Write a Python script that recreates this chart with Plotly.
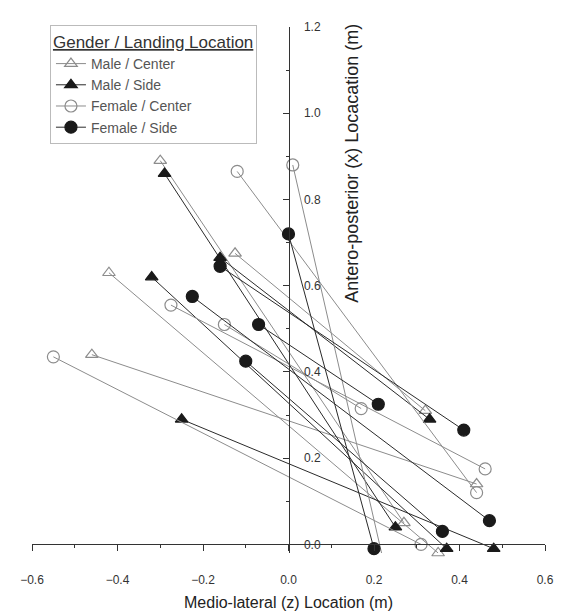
import plotly.graph_objects as go

# ---- data ----
male_center_start_x = [-0.30, -0.42, -0.125, -0.46]
male_center_start_y = [0.89, 0.63, 0.675, 0.44]
male_center_end_x = [0.27, 0.35, 0.32, 0.44]
male_center_end_y = [0.05, -0.02, 0.31, 0.14]

male_side_start_x = [-0.29, -0.32, -0.16, -0.25]
male_side_start_y = [0.86, 0.62, 0.665, 0.29]
male_side_end_x = [0.25, 0.37, 0.33, 0.48]
male_side_end_y = [0.04, -0.01, 0.29, -0.01]

female_center_start_x = [-0.12, 0.01, -0.275, -0.15, -0.55]
female_center_start_y = [0.865, 0.88, 0.555, 0.51, 0.435]
female_center_end_x = [0.44, 0.22, 0.46, 0.17, 0.31]
female_center_end_y = [0.12, -0.03, 0.175, 0.315, 0.0]

female_side_start_x = [0.0, -0.16, -0.225, -0.07, -0.10]
female_side_start_y = [0.72, 0.645, 0.575, 0.51, 0.425]
female_side_end_x = [0.20, 0.41, 0.47, 0.21, 0.36]
female_side_end_y = [-0.01, 0.265, 0.055, 0.325, 0.03]

x_ticks = [-0.6, -0.4, -0.2, 0.0, 0.2, 0.4, 0.6]
y_ticks = [0.0, 0.2, 0.4, 0.6, 0.8, 1.0, 1.2]

x_range = [-0.6, 0.6]
y_range = [-0.02, 1.2]


def segments(sx, sy, ex, ey):
    xs, ys = [], []
    for a, b, c, d in zip(sx, sy, ex, ey):
        xs += [a, c, None]
        ys += [b, d, None]
    return xs, ys


GRAY = "#8c8c8c"
DARK = "#1a1a1a"

groups = [
    ("Male / Center", male_center_start_x, male_center_start_y, male_center_end_x, male_center_end_y,
     "triangle-up-open", GRAY, GRAY, 11),
    ("Male / Side", male_side_start_x, male_side_start_y, male_side_end_x, male_side_end_y,
     "triangle-up", DARK, "#2a2a2a", 11),
    ("Female / Center", female_center_start_x, female_center_start_y, female_center_end_x, female_center_end_y,
     "circle-open", GRAY, GRAY, 12),
    ("Female / Side", female_side_start_x, female_side_start_y, female_side_end_x, female_side_end_y,
     "circle", DARK, "#2a2a2a", 12),
]

fig = go.Figure()
for name, sx, sy, ex, ey, sym, mcol, lcol, size in groups:
    xs, ys = segments(sx, sy, ex, ey)
    fig.add_trace(go.Scatter(
        x=xs, y=ys, name=name, mode="lines+markers",
        line=dict(color=lcol, width=1),
        marker=dict(symbol=sym, color=mcol, size=size, line=dict(color=mcol, width=1.2)),
        connectgaps=False, cliponaxis=False,
    ))

font_family = "Liberation Sans, Arial, sans-serif"

fig.update_layout(
    width=558, height=605,
    margin=dict(l=17, r=20, t=12, b=60),
    paper_bgcolor="white", plot_bgcolor="white",
    font=dict(family=font_family, size=12, color="#333333"),
    xaxis=dict(
        range=x_range, domain=[0, 1], anchor="free",
        position=(0 - y_range[0]) / (y_range[1] - y_range[0]),
        showline=True, linecolor="#333333", linewidth=1,
        ticks="outside", ticklen=6, tickcolor="#333333",
        tickvals=x_ticks, tickformat=".1f",
        minor=dict(dtick=0.1, ticks="outside", ticklen=3, tickcolor="#333333"),
        ticklabelstandoff=18,
        showgrid=False, zeroline=False,
        tickfont=dict(size=12, color="#333333"),
    ),
    yaxis=dict(
        range=y_range, domain=[0, 1], anchor="free",
        position=(0 - x_range[0]) / (x_range[1] - x_range[0]),
        side="right",
        showline=True, linecolor="#333333", linewidth=1,
        ticks="inside", ticklen=6, tickcolor="#333333",
        tickvals=y_ticks, tickformat=".1f",
        minor=dict(dtick=0.1, ticks="inside", ticklen=3, tickcolor="#333333"),
        ticklabelstandoff=12,
        showgrid=False, zeroline=False,
        tickfont=dict(size=12, color="#333333"),
    ),
    legend=dict(
        x=0.035, y=1.004, xanchor="left", yanchor="top",
        bgcolor="white", bordercolor="#bbbbbb", borderwidth=1,
        font=dict(size=14, color="#555555"),
        title=dict(text="<u>Gender / Landing Location</u>", font=dict(size=17, color="#333333")),
        tracegroupgap=0,
    ),
    annotations=[
        dict(text="Medio-lateral (z) Location (m)", xref="paper", yref="paper",
             x=0.5, y=-0.094, xanchor="center", yanchor="middle", showarrow=False,
             font=dict(size=16, color="#222222")),
        dict(text="Antero-posterior (x) Locacation (m)", xref="paper", yref="paper",
             x=0.624, y=0.74, xanchor="center", yanchor="middle", showarrow=False,
             textangle=-90, font=dict(size=18, color="#222222")),
    ],
)

fig.write_html("out.html")
